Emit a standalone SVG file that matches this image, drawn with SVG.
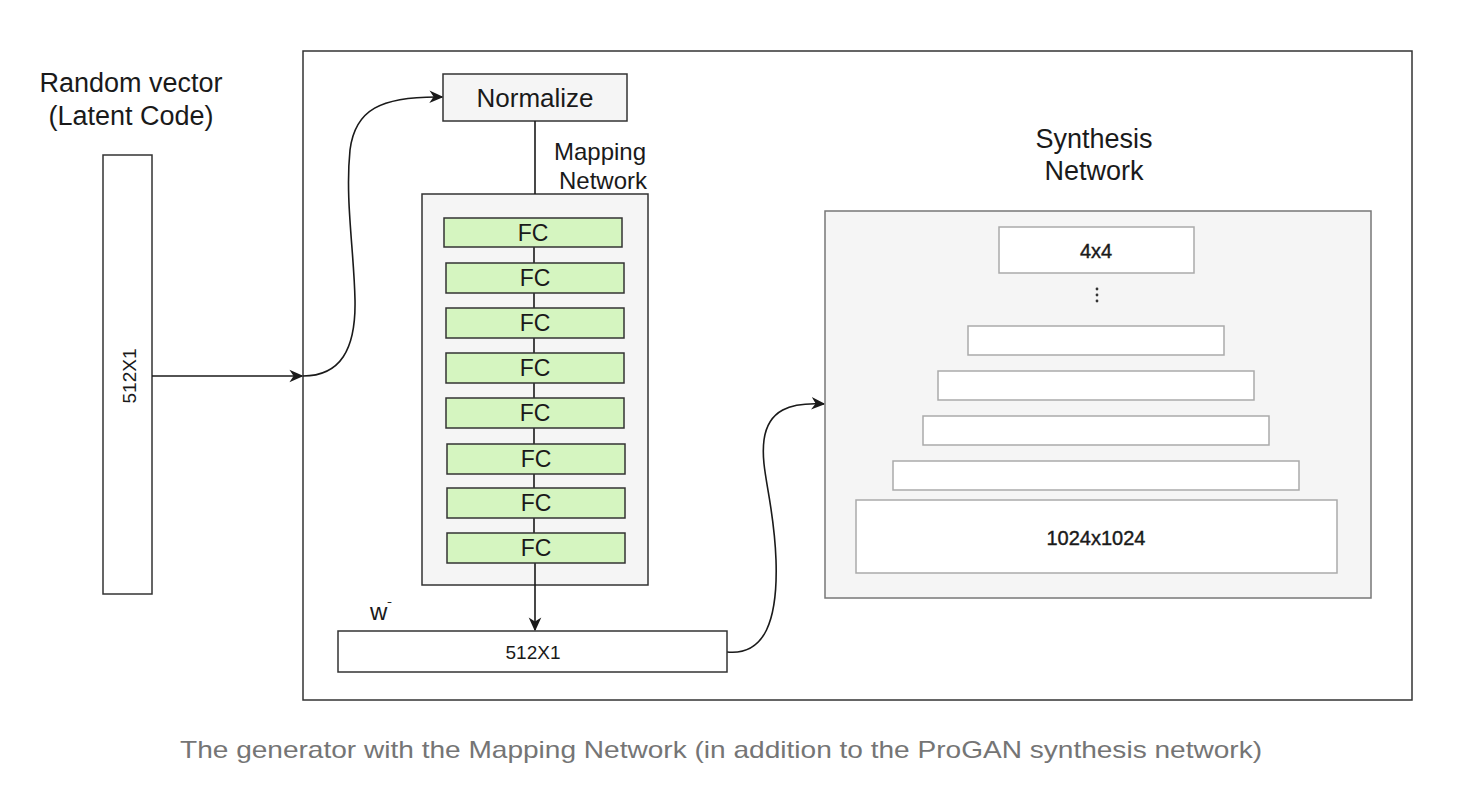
<svg xmlns="http://www.w3.org/2000/svg" width="1474" height="802" viewBox="0 0 1474 802">
<defs>
<style>
text{font-family:"Liberation Sans",Arial,sans-serif;fill:#1a1a1a}
.title{font-size:27px;text-anchor:middle}
.lbl{font-size:24px;text-anchor:middle}
.fc rect{fill:#d5f5c0;stroke:#333;stroke-width:1.5}
.fc text{font-size:23px;text-anchor:middle;dominant-baseline:central}
.syn rect{fill:#fff;stroke:#aaa;stroke-width:1.5}
.syn text{font-size:20px;text-anchor:middle;dominant-baseline:central;stroke:#1a1a1a;stroke-width:0.4}
.edge{fill:none;stroke:#1a1a1a;stroke-width:1.6}
</style>
<marker id="arr" viewBox="0 0 10 10" refX="9" refY="5" markerWidth="14" markerHeight="14" markerUnits="userSpaceOnUse" orient="auto">
<path d="M0,0.5 L10,5 L0,9.5 L3,5 Z" fill="#1a1a1a"/>
</marker>
</defs>
<rect width="1474" height="802" fill="#fff"/>

<g id="frame"><rect x="303" y="51" width="1109" height="649" fill="#fff" stroke="#333" stroke-width="1.5"/></g>

<g id="latent">
<text class="title" x="131" y="92">Random vector</text>
<text class="title" x="131" y="125">(Latent Code)</text>
<rect x="103" y="155" width="49" height="439" fill="#fff" stroke="#333" stroke-width="1.5"/>
<text x="129" y="376" font-size="19" text-anchor="middle" dominant-baseline="central" transform="rotate(-90 129 376)">512X1</text>
</g>

<g id="normalize">
<rect x="443" y="74" width="184" height="47" fill="#f5f5f5" stroke="#333" stroke-width="1.5"/>
<text x="535" y="98" font-size="26" text-anchor="middle" dominant-baseline="central">Normalize</text>
</g>

<g id="mapping-label">
<text class="lbl" x="600" y="160">Mapping</text>
<text class="lbl" x="603" y="189">Network</text>
</g>

<g id="mapping">
<rect x="422" y="194" width="226" height="391" fill="#f5f5f5" stroke="#333" stroke-width="1.5"/>
</g>

<g id="connectors">
<line class="edge" x1="152" y1="376" x2="302" y2="376" marker-end="url(#arr)"/>
<path class="edge" d="M303,376 C340,376 356,350 355,300 C354,250 345,200 350,150 C355,110 380,96 442,97" marker-end="url(#arr)"/>
<line class="edge" x1="535" y1="121" x2="535" y2="194"/>
<line class="edge" x1="534" y1="247" x2="534" y2="534"/>
<line class="edge" x1="535" y1="563" x2="535" y2="630" marker-end="url(#arr)"/>
<path class="edge" d="M727,652 C765,656 778,620 776,560 C774,500 760,470 764,440 C768,410 790,402 824,404" marker-end="url(#arr)"/>
</g>

<g id="fc1" class="fc"><rect x="444" y="218" width="178" height="29"/><text x="533" y="233">FC</text></g>
<g id="fc2" class="fc"><rect x="446" y="263" width="178" height="30"/><text x="535" y="278">FC</text></g>
<g id="fc3" class="fc"><rect x="446" y="308" width="178" height="30"/><text x="535" y="323">FC</text></g>
<g id="fc4" class="fc"><rect x="446" y="353" width="178" height="30"/><text x="535" y="368">FC</text></g>
<g id="fc5" class="fc"><rect x="446" y="398" width="178" height="30"/><text x="535" y="413">FC</text></g>
<g id="fc6" class="fc"><rect x="447" y="444" width="178" height="30"/><text x="536" y="459">FC</text></g>
<g id="fc7" class="fc"><rect x="447" y="488" width="178" height="30"/><text x="536" y="503">FC</text></g>
<g id="fc8" class="fc"><rect x="447" y="533" width="178" height="30"/><text x="536" y="548">FC</text></g>

<g id="w">
<text x="370" y="620" font-size="24">w<tspan font-size="14" dy="-8">ˉ</tspan></text>
<rect x="338" y="631" width="389" height="41" fill="#fff" stroke="#333" stroke-width="1.5"/>
<text x="533" y="652" font-size="19" text-anchor="middle" dominant-baseline="central">512X1</text>
</g>

<g id="synthesis-label">
<text class="title" x="1094" y="148">Synthesis</text>
<text class="title" x="1094" y="180">Network</text>
</g>

<g id="synthesis" class="syn">
<rect x="825" y="211" width="546" height="387" style="fill:#f5f5f5;stroke:#777"/>
<rect x="999" y="227" width="195" height="46"/>
<text x="1096" y="251">4x4</text>
<circle cx="1097" cy="289" r="1.4" fill="#333"/>
<circle cx="1097" cy="295" r="1.4" fill="#333"/>
<circle cx="1097" cy="301" r="1.4" fill="#333"/>
<rect x="968" y="326" width="256" height="29"/>
<rect x="938" y="371" width="316" height="29"/>
<rect x="923" y="416" width="346" height="29"/>
<rect x="893" y="461" width="406" height="29"/>
<rect x="856" y="500" width="481" height="73"/>
<text x="1096" y="538">1024x1024</text>
</g>

<g id="caption">
<text x="721" y="758" font-size="24" text-anchor="middle" textLength="1082" lengthAdjust="spacingAndGlyphs" style="fill:#757575">The generator with the Mapping Network (in addition to the ProGAN synthesis network)</text>
</g>
</svg>
